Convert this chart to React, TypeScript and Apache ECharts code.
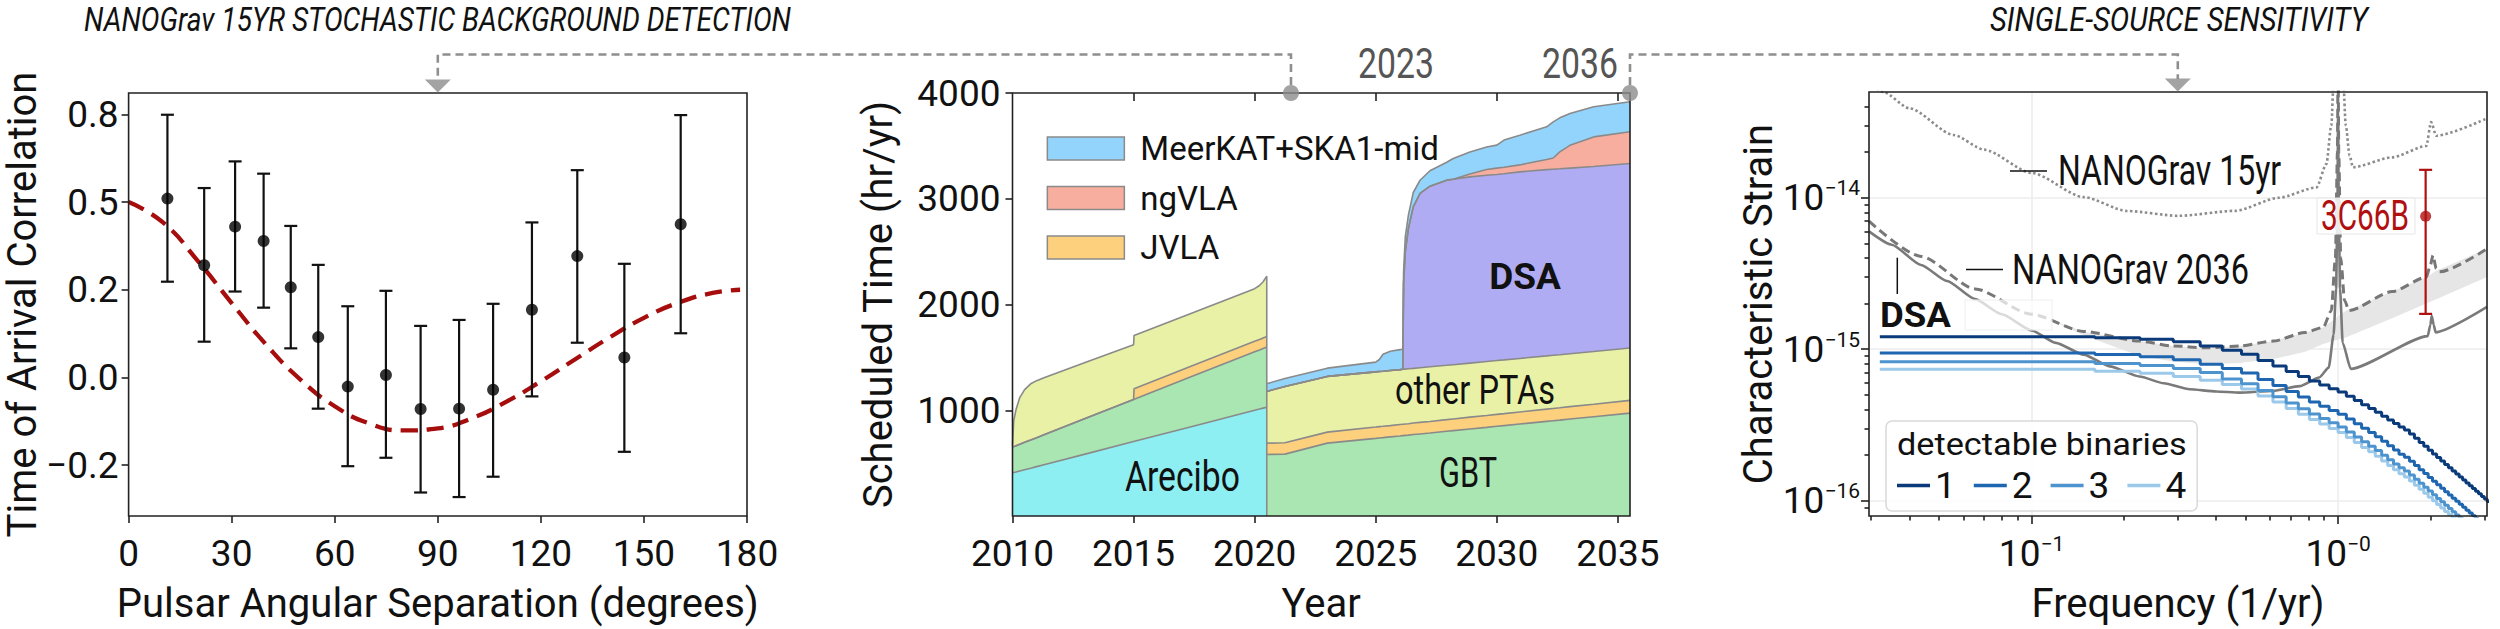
import React, { useEffect, useRef } from 'react';
import * as echarts from 'echarts';

// ---------------- fonts & inks ----------------
const COND = "Roboto, 'Noto Sans', 'Liberation Sans', sans-serif";
const SANS = "Roboto, 'Noto Sans', 'Liberation Sans', sans-serif";
const INK = '#111111';
const AXIS_INK = '#222222';
const EDGE = '#8a8a8a';

// ---------------- Panel 1 : NANOGrav 15yr correlations ----------------
const X1_MIN = 0;
const X1_MAX = 180;
const X1_STEP = 30;
const Y1_MIN = -0.395;
const Y1_MAX = 0.811;
const Y1_TICKS = [-0.25, 0, 0.25, 0.5, 0.75];
const Y1_TICK_LABELS = ['−0.2', '0.0', '0.2', '0.5', '0.8'];
const HD_ANGLES = [11.3, 22.0, 31.0, 39.3, 47.2, 55.2, 63.8, 74.9, 85.0, 96.2, 106.1, 117.4, 130.6, 144.3, 160.7];
const HD_CORR = [0.510, 0.320, 0.430, 0.389, 0.257, 0.115, -0.026, 0.007, -0.090, -0.089, -0.035, 0.193, 0.346, 0.057, 0.437];
const HD_LOW = [0.273, 0.102, 0.245, 0.199, 0.083, -0.089, -0.253, -0.229, -0.328, -0.341, -0.283, -0.054, 0.099, -0.212, 0.126];
const HD_HIGH = [0.749, 0.540, 0.616, 0.581, 0.432, 0.321, 0.203, 0.247, 0.147, 0.164, 0.210, 0.442, 0.591, 0.324, 0.748];
const HD_CURVE_ANGLES = [0, 10, 20, 30, 40, 50, 60, 70, 80, 90, 100, 110, 120, 130, 140, 150, 160, 170, 178];
const HD_CURVE_VALUES = [0.5, 0.442, 0.334, 0.212, 0.094, -0.006, -0.082, -0.131, -0.151, -0.145, -0.116, -0.069, -0.011, 0.052, 0.114, 0.170, 0.213, 0.241, 0.250];
const ARROW_ANGLE = [90];

// ---------------- Panel 2 : scheduled time ----------------
const YEAR_MIN = 2010;
const YEAR_MAX = 2035.5;
const YEAR_TICKS = [2010, 2015, 2020, 2025, 2030, 2035];
const YEAR_TOP_TICKS = [2015, 2020, 2025, 2030, 2035];
const HOURS_MIN = 0;
const HOURS_MAX = 4000;
const HOURS_TICKS = [1000, 2000, 3000, 4000];
const MILESTONE_YEARS = [2021.5, 2035.5];

// layer thicknesses (hr/yr), era up to 2020.5
const OLD_YEARS = [2010.0, 2010.05, 2010.15, 2010.3, 2010.5, 2010.75, 2011.0, 2011.3, 2013.0, 2015.0, 2015.02, 2017.5, 2020.0, 2020.2, 2020.35, 2020.5];
const ARECIBO = [408, 411, 417, 426, 438, 452, 467, 485, 585, 704, 705, 852, 1000, 1011, 1020, 1029];
const GBT_OLD = [243, 245, 248, 252, 259, 266, 274, 283, 336, 398, 399, 476, 553, 559, 564, 569];
const JVLA_OLD = [0, 0, 0, 0, 0, 0, 0, 0, 0, 0, 100, 100, 100, 100, 100, 100];
const PTA_OLD = [16, 244, 345, 442, 498, 532, 539, 540, 531, 518, 504, 499, 497, 510, 531, 569];

// layer thicknesses (hr/yr), era from 2020.5
const NEW_YEARS = [2020.5, 2021.25, 2023.0, 2025.0, 2025.15, 2025.3, 2025.6, 2026.0, 2026.12, 2026.15, 2026.22, 2026.35, 2026.55, 2026.83, 2027.24, 2027.93, 2028.2, 2028.89, 2029.58, 2030.0, 2030.3, 2030.95, 2032.06, 2032.33, 2032.6, 2033.02, 2034.0, 2035.5];
const GBT_NEW = [582, 585, 689, 734, 738, 741, 748, 757, 760, 760, 762, 765, 770, 776, 785, 801, 807, 823, 838, 848, 855, 870, 895, 901, 907, 917, 939, 973];
const JVLA_NEW = [107, 107, 104, 107, 107, 107, 107, 108, 108, 108, 108, 108, 109, 109, 109, 110, 111, 112, 112, 113, 113, 114, 116, 116, 116, 117, 118, 120];
const PTA_NEW = [489, 533, 527, 522, 521, 521, 521, 519, 519, 519, 519, 519, 517, 517, 517, 514, 513, 511, 511, 509, 508, 506, 503, 503, 502, 500, 498, 495];
const DSA_NEW = [0, 0, 0, 0, 0, 0, 0, 0, 0, 813, 1111, 1328, 1527, 1648, 1708, 1751, 1754, 1761, 1761, 1760, 1760, 1764, 1761, 1759, 1758, 1756, 1750, 1746];
const NGVLA_NEW = [0, 0, 0, 0, 0, 0, 0, 0, 0, 0, 0, 0, 0, 0, 0, 0, 0, 28, 55, 60, 62, 66, 97, 106, 160, 215, 280, 299];
const MEERKAT_NEW = [73, 75, 78, 92, 114, 161, 182, 189, 193, 110, 140, 128, 136, 125, 146, 169, 196, 208, 213, 217, 257, 281, 308, 342, 322, 302, 285, 284];

const C_ARECIBO = '#8eeff2';
const C_GBT = '#a9e6b1';
const C_JVLA = '#fdd07d';
const C_PTA = '#e9f1a6';
const C_DSA = '#b0acf4';
const C_NGVLA = '#f8ae9f';
const C_MEER = '#92d4fb';

// ---------------- Panel 3 : single-source sensitivity ----------------
const F_MIN = 0.0295;
const F_MAX = 3.06;
const H_MIN = 7.9e-17;
const H_MAX = 5.0e-14;
const F_MAJOR = [0.1, 1];
const H_MAJOR = [1e-16, 1e-15, 1e-14];
const F_MINOR = [0.03, 0.04, 0.05, 0.06, 0.07, 0.08, 0.09, 0.2, 0.3, 0.4, 0.5, 0.6, 0.7, 0.8, 0.9, 2, 3];
const H_MINOR = [9e-17, 2e-16, 3e-16, 4e-16, 5e-16, 6e-16, 7e-16, 8e-16, 9e-16, 2e-15, 3e-15, 4e-15, 5e-15, 6e-15, 7e-15, 8e-15, 9e-15, 2e-14, 3e-14, 4e-14];
const ARROW_FREQ = [0.3];

const NG15_FREQ = [0.0295, 0.0328, 0.04, 0.0557, 0.07, 0.1, 0.148, 0.205, 0.301, 0.462, 0.64, 0.85, 0.916, 0.95, 0.975, 1.03, 1.06, 1.09, 1.118, 1.5, 1.94, 2.01, 2.09, 3.06];
const NG15_STRAIN = [5.8e-14, 5.0e-14, 3.9e-14, 2.6e-14, 2.08e-14, 1.46e-14, 1.01e-14, 8.18e-15, 7.6e-15, 8.2e-15, 1.0e-14, 1.17e-14, 1.67e-14, 3.0e-14, 9e-14, 9e-14, 3.0e-14, 1.9e-14, 1.59e-14, 1.85e-14, 2.2e-14, 3.16e-14, 2.57e-14, 3.35e-14];

const NG36_FREQ = [0.0295, 0.0436, 0.0655, 0.1, 0.148, 0.225, 0.29, 0.372, 0.477, 0.614, 0.78, 0.893, 0.95, 0.98, 0.995, 1.0, 1.005, 1.02, 1.05, 1.085, 1.5, 1.94, 2.0, 2.04, 2.09, 2.14, 3.06];
const NG36_STRAIN = [7.0e-15, 4.1e-15, 2.5e-15, 1.7e-15, 1.31e-15, 1.13e-15, 1.05e-15, 1.02e-15, 1.05e-15, 1.13e-15, 1.29e-15, 1.39e-15, 1.79e-15, 4e-15, 2e-14, 8e-14, 2e-14, 4e-15, 2.1e-15, 1.8e-15, 2.4e-15, 2.99e-15, 3.6e-15, 4.17e-15, 3.4e-15, 3.24e-15, 4.6e-15];

const DSA_FREQ = [0.0295, 0.035, 0.0436, 0.053, 0.0655, 0.08, 0.1, 0.12, 0.148, 0.18, 0.225, 0.27, 0.328, 0.4, 0.477, 0.614, 0.75, 0.868, 0.932, 0.967, 0.985, 0.995, 1.0, 1.005, 1.015, 1.035, 1.1, 1.96, 2.0, 2.02, 2.05, 2.08, 3.06];
const DSA_STRAIN = [6.0e-15, 4.9e-15, 3.6e-15, 2.82e-15, 2.14e-15, 1.7e-15, 1.33e-15, 1.1e-15, 9.2e-16, 7.7e-16, 6.6e-16, 5.95e-16, 5.43e-16, 5.25e-16, 5.16e-16, 5.3e-16, 5.7e-16, 6.5e-16, 7.55e-16, 1.25e-15, 2.5e-15, 8e-15, 3.5e-14, 8e-15, 2.5e-15, 1.1e-15, 7.4e-16, 1.22e-15, 1.45e-15, 1.66e-15, 1.45e-15, 1.29e-15, 1.9e-15];

const BAND_FREQ = [0.12, 0.15, 0.225, 0.29, 0.372, 0.477, 0.614, 0.78, 0.893, 1.064, 1.118, 1.5, 1.94, 2.09, 3.06];
const BAND_LOW = [1.5e-15, 1.22e-15, 9.0e-16, 8.3e-16, 7.95e-16, 8.1e-16, 8.6e-16, 9.6e-16, 1.08e-15, 1.2e-15, 1.25e-15, 1.6e-15, 2.0e-15, 2.14e-15, 3.0e-15];
const BAND_HIGH = [1.52e-15, 1.3e-15, 1.13e-15, 1.05e-15, 1.02e-15, 1.05e-15, 1.13e-15, 1.29e-15, 1.39e-15, 1.81e-15, 1.86e-15, 2.4e-15, 2.99e-15, 3.3e-15, 4.6e-15];

// frequency-bin edges of the detectable-binary staircases, and log10 strain per bin
const BIN_EDGES = [0.032, 0.097, 0.161, 0.226, 0.290, 0.355, 0.419, 0.484, 0.548, 0.613, 0.677, 0.742, 0.806, 0.871, 0.935, 1.000, 1.064, 1.129, 1.193, 1.258, 1.322, 1.387, 1.451, 1.516, 1.580, 1.645, 1.709, 1.774, 1.838, 1.903, 1.967, 2.032, 2.096, 2.161, 2.225, 2.290, 2.354, 2.419, 2.483, 2.548, 2.612, 2.677, 2.741, 2.806, 2.870, 2.935, 2.999, 3.064, 3.128];
const LOG_H_1 = [-14.918, -14.918, -14.925, -14.935, -14.951, -14.979, -15.008, -15.034, -15.075, -15.111, -15.148, -15.181, -15.211, -15.237, -15.261, -15.283, -15.312, -15.340, -15.367, -15.392, -15.417, -15.443, -15.468, -15.491, -15.514, -15.535, -15.561, -15.589, -15.616, -15.642, -15.668, -15.692, -15.716, -15.739, -15.762, -15.783, -15.805, -15.825, -15.845, -15.865, -15.884, -15.903, -15.921, -15.939, -15.956, -15.973, -15.990, -16.006, -16.006];
const LOG_H_2 = [-15.025, -15.025, -15.035, -15.050, -15.070, -15.100, -15.128, -15.157, -15.201, -15.240, -15.280, -15.316, -15.349, -15.378, -15.405, -15.430, -15.462, -15.493, -15.523, -15.551, -15.579, -15.609, -15.638, -15.666, -15.694, -15.715, -15.741, -15.769, -15.796, -15.822, -15.848, -15.872, -15.896, -15.919, -15.942, -15.963, -15.985, -16.005, -16.025, -16.045, -16.064, -16.083, -16.101, -16.119, -16.136, -16.153, -16.170, -16.186, -16.186];
const LOG_H_3 = [-15.084, -15.084, -15.095, -15.108, -15.128, -15.155, -15.198, -15.229, -15.274, -15.315, -15.356, -15.394, -15.428, -15.459, -15.487, -15.514, -15.547, -15.580, -15.611, -15.641, -15.670, -15.701, -15.730, -15.758, -15.784, -15.805, -15.831, -15.859, -15.886, -15.912, -15.938, -15.962, -15.986, -16.009, -16.032, -16.053, -16.075, -16.095, -16.115, -16.135, -16.154, -16.173, -16.191, -16.209, -16.226, -16.243, -16.260, -16.276, -16.276];
const LOG_H_4 = [-15.133, -15.133, -15.146, -15.160, -15.180, -15.205, -15.233, -15.264, -15.310, -15.350, -15.392, -15.430, -15.464, -15.495, -15.524, -15.551, -15.584, -15.617, -15.649, -15.678, -15.708, -15.739, -15.768, -15.796, -15.824, -15.845, -15.871, -15.899, -15.926, -15.952, -15.978, -16.002, -16.026, -16.049, -16.072, -16.093, -16.115, -16.135, -16.155, -16.175, -16.194, -16.213, -16.231, -16.249, -16.266, -16.283, -16.300, -16.316, -16.316];
const BINARY_NAMES = ['1', '2', '3', '4'];
const BINARY_COLORS = ['#0a3a7a', '#1f66b0', '#4d94cf', '#9cc9ea'];

const SRC_F = [1.93];
const SRC_H = [7.55e-15];
const SRC_LO = [1.71e-15];
const SRC_HI = [1.53e-14];

// ---------------- helpers ----------------
const zip = (xs: number[], ys: number[]) => xs.map((x, i) => [x, ys[i]]);
const cumulate = (layers: number[][]) => {
  const out: number[][] = [];
  layers.forEach((layer, li) => {
    out.push(layer.map((v, i) => v + (li > 0 ? out[li - 1][i] : 0)));
  });
  return out;
};

function fitScale(text: string, font: string, width: number): number {
  const ctx = document.createElement('canvas').getContext('2d');
  if (!ctx) return 1;
  ctx.font = font;
  const w = ctx.measureText(text).width;
  return w > 0 ? width / w : 1;
}

function fittedText(text: string, left: number, cy: number, width: number, size: number, color = INK, style = 'normal', weight = 'normal') {
  const s = fitScale(text, `${style} ${weight} ${size}px Roboto`, width);
  return {
    type: 'text', x: left, y: cy, scaleX: s, z: 100, silent: true,
    style: { text, fontFamily: SANS, fontSize: size, fontStyle: style, fontWeight: weight, fill: color, align: 'left', verticalAlign: 'middle' },
  };
}

function errorBar(color: string, halfCap: number, lw: number) {
  return (params: any, api: any) => {
    const x = api.value(0);
    const lo = api.coord([x, api.value(2)]);
    const hi = api.coord([x, api.value(3)]);
    const style = { stroke: color, lineWidth: lw };
    return {
      type: 'group',
      children: [
        { type: 'line', shape: { x1: lo[0], y1: lo[1], x2: hi[0], y2: hi[1] }, style },
        { type: 'line', shape: { x1: lo[0] - halfCap, y1: lo[1], x2: lo[0] + halfCap, y2: lo[1] }, style },
        { type: 'line', shape: { x1: hi[0] - halfCap, y1: hi[1], x2: hi[0] + halfCap, y2: hi[1] }, style },
      ],
    };
  };
}

const TICK_FONT = 37;
const tickStyle = { color: AXIS_INK, width: 1.6 };
const tickLabel = { fontFamily: COND, fontSize: TICK_FONT, color: INK };
const nameStyle = { fontFamily: SANS, fontSize: 40, color: INK };
const powRich = {
  b: { fontFamily: COND, fontSize: TICK_FONT, color: INK, lineHeight: 40 },
  s: { fontFamily: COND, fontSize: 21, color: INK, lineHeight: 24, verticalAlign: 'top' },
};
const powLabel = (v: number) => {
  const e = Math.round(Math.log10(v));
  return `{b|10}{s|−${Math.abs(e)}}`;
};
const plain = (v: number) => String(Math.round(v));
const gridBox = { show: true, z: 10, borderColor: AXIS_INK, borderWidth: 1.6, backgroundColor: 'transparent', containLabel: false, outerBoundsMode: 'none' };
const noLine = { show: false, onZero: false };

function areaSeries(name: string, years: number[], tops: number[], color: string) {
  return {
    name, type: 'line', xAxisIndex: 1, yAxisIndex: 1, data: zip(years, tops),
    symbol: 'none', showSymbol: false, color,
    lineStyle: { color: EDGE, width: 1.6 },
    areaStyle: { color, opacity: 1, origin: 'start' },
    z: 2,
  };
}

function buildOption() {
  const [topArecibo, topGbtOld, topJvlaOld, topPtaOld] = cumulate([ARECIBO, GBT_OLD, JVLA_OLD, PTA_OLD]);
  const [topGbt, topJvla, topPta, topDsa, topNgvla, topMeer] = cumulate([GBT_NEW, JVLA_NEW, PTA_NEW, DSA_NEW, NGVLA_NEW, MEERKAT_NEW]);
  const lastOld = OLD_YEARS.length - 1;

  const binaryLogs = [LOG_H_1, LOG_H_2, LOG_H_3, LOG_H_4];
  const binarySeries = [3, 2, 1, 0].map((i) => ({
    name: BINARY_NAMES[i], type: 'line', xAxisIndex: 3, yAxisIndex: 2, step: 'end',
    data: BIN_EDGES.map((f, k) => [f, Math.pow(10, binaryLogs[i][k])]),
    symbol: 'none', color: BINARY_COLORS[i],
    lineStyle: { color: BINARY_COLORS[i], width: 3 }, z: 4,
  }));

  return {
    animation: false,
    backgroundColor: '#ffffff',
    textStyle: { fontFamily: SANS },
    grid: [
      { ...gridBox, left: 128.6, top: 93, width: 618.4, height: 423 },
      { ...gridBox, left: 1012.5, top: 93, width: 617.5, height: 423 },
      { ...gridBox, left: 1869, top: 92, width: 618, height: 424 },
    ],
    xAxis: [
      {
        gridIndex: 0, type: 'value', min: X1_MIN, max: X1_MAX, interval: X1_STEP,
        axisLine: noLine, splitLine: { show: false },
        axisTick: { show: true, length: 7, lineStyle: tickStyle },
        axisLabel: { ...tickLabel, margin: 19, formatter: plain },
        name: 'Pulsar Angular Separation (degrees)', nameLocation: 'middle', nameGap: 67, nameTextStyle: nameStyle,
      },
      {
        gridIndex: 1, type: 'value', position: 'bottom', min: YEAR_MIN, max: YEAR_MAX,
        axisLine: noLine, splitLine: { show: false },
        axisTick: { show: true, length: 7, lineStyle: tickStyle, customValues: YEAR_TICKS },
        axisLabel: { ...tickLabel, margin: 19, customValues: YEAR_TICKS, formatter: plain },
        name: 'Year', nameLocation: 'middle', nameGap: 67, nameTextStyle: nameStyle,
      },
      {
        gridIndex: 1, type: 'value', position: 'top', min: YEAR_MIN, max: YEAR_MAX,
        axisLine: noLine, splitLine: { show: false },
        axisTick: { show: true, inside: true, length: 8, lineStyle: tickStyle, customValues: YEAR_TOP_TICKS },
        axisLabel: { show: false },
      },
      {
        gridIndex: 2, type: 'log', logBase: 10, position: 'bottom', min: F_MIN, max: F_MAX,
        axisLine: noLine,
        splitLine: { show: true, lineStyle: { color: '#ececec', width: 1.5 } },
        axisTick: { show: true, length: 8, lineStyle: tickStyle, customValues: F_MAJOR },
        axisLabel: { margin: 17, customValues: F_MAJOR, formatter: powLabel, rich: powRich },
        name: 'Frequency (1/yr)', nameLocation: 'middle', nameGap: 67, nameTextStyle: nameStyle,
      },
      {
        gridIndex: 2, type: 'log', logBase: 10, position: 'bottom', min: F_MIN, max: F_MAX,
        axisLine: noLine, splitLine: { show: false },
        axisTick: { show: true, length: 4.5, lineStyle: tickStyle, customValues: F_MINOR },
        axisLabel: { show: false },
      },
    ],
    yAxis: [
      {
        gridIndex: 0, type: 'value', min: Y1_MIN, max: Y1_MAX,
        axisLine: noLine, splitLine: { show: false },
        axisTick: { show: true, length: 7, lineStyle: tickStyle, customValues: Y1_TICKS },
        axisLabel: {
          ...tickLabel, margin: 10, customValues: Y1_TICKS,
          formatter: (v: number) => {
            const i = Y1_TICKS.findIndex((t) => Math.abs(t - v) < 1e-9);
            return i >= 0 ? Y1_TICK_LABELS[i] : '';
          },
        },
        name: 'Time of Arrival Correlation', nameLocation: 'middle', nameGap: 83, nameTextStyle: nameStyle,
      },
      {
        gridIndex: 1, type: 'value', min: HOURS_MIN, max: HOURS_MAX,
        axisLine: noLine, splitLine: { show: false },
        axisTick: { show: true, length: 7, lineStyle: tickStyle, customValues: HOURS_TICKS },
        axisLabel: { ...tickLabel, margin: 12, customValues: HOURS_TICKS, formatter: plain },
        name: 'Scheduled Time (hr/yr)', nameLocation: 'middle', nameGap: 114, nameTextStyle: nameStyle,
      },
      {
        gridIndex: 2, type: 'log', logBase: 10, position: 'left', min: H_MIN, max: H_MAX,
        axisLine: noLine,
        splitLine: { show: true, lineStyle: { color: '#ececec', width: 1.5 } },
        axisTick: { show: true, length: 8, lineStyle: tickStyle, customValues: H_MAJOR },
        axisLabel: { margin: 9, customValues: H_MAJOR, formatter: powLabel, rich: powRich },
        name: 'Characteristic Strain', nameLocation: 'middle', nameGap: 91, nameTextStyle: nameStyle,
      },
      {
        gridIndex: 2, type: 'log', logBase: 10, position: 'left', min: H_MIN, max: H_MAX,
        axisLine: noLine, splitLine: { show: false },
        axisTick: { show: true, length: 4.5, lineStyle: tickStyle, customValues: H_MINOR },
        axisLabel: { show: false },
      },
    ],
    legend: [
      {
        selectedMode: false, orient: 'vertical', left: 1046.6, top: 132, padding: 0,
        itemWidth: 77, itemHeight: 23, itemGap: 16.5, icon: 'rect',
        formatter: (name: string) => `{t|${name}}`,
        textStyle: { rich: { t: { fontFamily: COND, fontSize: 33, color: INK, lineHeight: 23, padding: [0, 0, 0, 11] } } },
        data: [
          { name: 'MeerKAT+SKA1-mid', itemStyle: { color: C_MEER, borderColor: EDGE, borderWidth: 1.5 } },
          { name: 'ngVLA', itemStyle: { color: C_NGVLA, borderColor: EDGE, borderWidth: 1.5 } },
          { name: 'JVLA', itemStyle: { color: C_JVLA, borderColor: EDGE, borderWidth: 1.5 } },
        ],
      },
      {
        selectedMode: false, orient: 'horizontal', left: 1886, top: 421,
        padding: [46, 11, 7, 11], itemWidth: 33, itemHeight: 3.5, itemGap: 18, icon: 'rect',
        backgroundColor: 'rgba(255,255,255,0.85)', borderColor: '#d9d9d9', borderWidth: 1.5, borderRadius: 6,
        textStyle: { fontFamily: COND, fontSize: TICK_FONT, color: INK, lineHeight: 30 },
        data: BINARY_NAMES.map((n, i) => ({ name: n, itemStyle: { color: BINARY_COLORS[i] } })),
      },
    ],
    series: [
      // ----- panel 1
      {
        name: 'Hellings-Downs', type: 'line', xAxisIndex: 0, yAxisIndex: 0,
        data: zip(HD_CURVE_ANGLES, HD_CURVE_VALUES), smooth: true, symbol: 'none',
        lineStyle: { color: '#a60e0e', width: 4.3, type: [17, 9] }, z: 2,
      },
      {
        name: 'correlation error', type: 'custom', xAxisIndex: 0, yAxisIndex: 0,
        renderItem: errorBar('#111111', 6.5, 2.2), encode: { x: 0, y: [1, 2, 3] },
        data: HD_ANGLES.map((a, i) => [a, HD_CORR[i], HD_LOW[i], HD_HIGH[i]]), z: 3,
      },
      {
        name: 'correlation', type: 'scatter', xAxisIndex: 0, yAxisIndex: 0,
        data: zip(HD_ANGLES, HD_CORR), symbolSize: 12, itemStyle: { color: '#000000' }, z: 4,
      },
      {
        name: 'arrow-left', type: 'scatter', xAxisIndex: 0, yAxisIndex: 0, clip: false,
        data: ARROW_ANGLE.map((a) => [a, Y1_MAX]), symbol: 'triangle', symbolRotate: 180,
        symbolSize: [26, 13], symbolOffset: [0, -7], itemStyle: { color: '#8c8c8c' }, z: 20,
      },
      // ----- panel 2 : layers painted back to front (cumulative tops)
      areaSeries('other PTAs', OLD_YEARS, topPtaOld, C_PTA),
      areaSeries('JVLA', OLD_YEARS, topJvlaOld, C_JVLA),
      areaSeries('GBT', OLD_YEARS, topGbtOld, C_GBT),
      areaSeries('Arecibo', OLD_YEARS, topArecibo, C_ARECIBO),
      areaSeries('MeerKAT+SKA1-mid', NEW_YEARS, topMeer, C_MEER),
      areaSeries('ngVLA', NEW_YEARS, topNgvla, C_NGVLA),
      areaSeries('DSA', NEW_YEARS, topDsa, C_DSA),
      areaSeries('other PTAs', NEW_YEARS, topPta, C_PTA),
      areaSeries('JVLA', NEW_YEARS, topJvla, C_JVLA),
      areaSeries('GBT', NEW_YEARS, topGbt, C_GBT),
      {
        name: 'era boundary', type: 'line', xAxisIndex: 1, yAxisIndex: 1,
        data: [[OLD_YEARS[lastOld], 0], [OLD_YEARS[lastOld], topPtaOld[lastOld]]],
        symbol: 'none', lineStyle: { color: EDGE, width: 1.6 }, z: 3,
      },
      {
        name: 'milestones', type: 'scatter', xAxisIndex: 1, yAxisIndex: 1, clip: false,
        data: MILESTONE_YEARS.map((y) => [y, HOURS_MAX]), symbolSize: 16,
        itemStyle: { color: '#8c8c8c' }, z: 20,
      },
      // ----- panel 3
      {
        name: 'band', type: 'custom', xAxisIndex: 3, yAxisIndex: 2, z: 1,
        data: BAND_FREQ.map((f, i) => [f, BAND_LOW[i], BAND_HIGH[i]]),
        encode: { x: 0, y: [1, 2] },
        renderItem: (params: any, api: any) => {
          if (params.dataIndex !== 0) return null;
          const upper = BAND_FREQ.map((f, i) => api.coord([f, BAND_HIGH[i]]));
          const lower = BAND_FREQ.map((f, i) => api.coord([f, BAND_LOW[i]])).reverse();
          return { type: 'polygon', shape: { points: upper.concat(lower) }, style: { fill: '#e6e6e6' } };
        },
      },
      {
        name: 'NANOGrav 15yr', type: 'line', xAxisIndex: 3, yAxisIndex: 2,
        data: zip(NG15_FREQ, NG15_STRAIN), symbol: 'none', smooth: 0.25, smoothMonotone: 'x',
        lineStyle: { color: '#8c8c8c', width: 2.6, type: [2.5, 2.5] }, z: 2,
      },
      {
        name: 'NANOGrav 2036', type: 'line', xAxisIndex: 3, yAxisIndex: 2,
        data: zip(NG36_FREQ, NG36_STRAIN), symbol: 'none', smooth: 0.25, smoothMonotone: 'x',
        lineStyle: { color: '#777777', width: 3, type: [9, 5] }, z: 3,
      },
      {
        name: 'DSA sensitivity', type: 'line', xAxisIndex: 3, yAxisIndex: 2,
        data: zip(DSA_FREQ, DSA_STRAIN), symbol: 'none', smooth: 0.2, smoothMonotone: 'x',
        lineStyle: { color: '#7a7a7a', width: 2.6 }, z: 3,
      },
      ...binarySeries,
      {
        name: '3C66B error', type: 'custom', xAxisIndex: 3, yAxisIndex: 2,
        renderItem: errorBar('#b01010', 6.5, 2.2), encode: { x: 0, y: [1, 2, 3] },
        data: SRC_F.map((f, i) => [f, SRC_H[i], SRC_LO[i], SRC_HI[i]]), z: 6,
      },
      {
        name: '3C66B', type: 'scatter', xAxisIndex: 3, yAxisIndex: 2,
        data: zip(SRC_F, SRC_H), symbolSize: 11, itemStyle: { color: '#b01010' }, z: 7,
      },
      {
        name: 'arrow-right', type: 'scatter', xAxisIndex: 3, yAxisIndex: 2, clip: false,
        data: ARROW_FREQ.map((f) => [f, H_MAX]), symbol: 'triangle', symbolRotate: 180,
        symbolSize: [26, 13], symbolOffset: [0, -7], itemStyle: { color: '#8c8c8c' }, z: 20,
      },
    ],
  };
}

export default function App() {
  const ref = useRef<HTMLDivElement>(null);
  useEffect(() => {
    if (!ref.current) return;
    const chart = echarts.init(ref.current, null, { renderer: 'svg' });
    chart.setOption(buildOption() as any);

    const pA = chart.convertToPixel({ xAxisIndex: 0, yAxisIndex: 0 } as any, [ARROW_ANGLE[0], Y1_MAX]) as number[];
    const pB = chart.convertToPixel({ xAxisIndex: 1, yAxisIndex: 1 } as any, [MILESTONE_YEARS[0], HOURS_MAX]) as number[];
    const pC = chart.convertToPixel({ xAxisIndex: 1, yAxisIndex: 1 } as any, [MILESTONE_YEARS[1], HOURS_MAX]) as number[];
    const pD = chart.convertToPixel({ xAxisIndex: 3, yAxisIndex: 2 } as any, [ARROW_FREQ[0], H_MAX]) as number[];
    const railY = 54.5;
    const dash = { stroke: '#8f8f8f', lineWidth: 2.6, lineDash: [8, 5], fill: null };

    const graphics: any[] = [
      { type: 'polyline', z: 90, silent: true, shape: { points: [[pB[0], pB[1] - 8], [pB[0], railY], [pA[0], railY], [pA[0], pA[1] - 13]] }, style: dash },
      { type: 'polyline', z: 90, silent: true, shape: { points: [[pC[0], pC[1] - 8], [pC[0], railY], [pD[0], railY], [pD[0], pD[1] - 13]] }, style: dash },
      fittedText('NANOGrav 15YR STOCHASTIC BACKGROUND DETECTION', 84, 19.5, 707, 34, INK, 'italic'),
      fittedText('SINGLE-SOURCE SENSITIVITY', 1990, 19.5, 378, 34, INK, 'italic'),
      fittedText('2023', 1358, 64, 76, 42, '#555555'),
      fittedText('2036', 1542, 64, 76, 42, '#555555'),
      fittedText('Arecibo', 1125, 476, 115, 43),
      fittedText('GBT', 1439, 472, 58, 43),
      fittedText('other PTAs', 1395, 390, 160, 41),
      {
        type: 'text', x: 1525, y: 276, z: 100, silent: true,
        style: { text: 'DSA', fontFamily: SANS, fontSize: 37, fontWeight: 'bold', fill: INK, align: 'center', verticalAlign: 'middle' },
      },
      { type: 'rect', z: 60, silent: true, shape: { x: 1965, y: 300, width: 87, height: 30 }, style: { fill: 'rgba(255,255,255,0.72)', stroke: '#eeeeee', lineWidth: 1 } },
      fittedText('DSA', 1880, 315, 71, 35, INK, 'normal', 'bold'),
      { type: 'line', z: 100, silent: true, shape: { x1: 1897.3, y1: 257.7, x2: 1897.3, y2: 294 }, style: { stroke: INK, lineWidth: 1.5 } },
      { type: 'line', z: 100, silent: true, shape: { x1: 2010, y1: 171, x2: 2047, y2: 171 }, style: { stroke: INK, lineWidth: 1.5 } },
      fittedText('NANOGrav 15yr', 2058, 170, 223, 42),
      { type: 'line', z: 100, silent: true, shape: { x1: 1966, y1: 269.5, x2: 2003, y2: 269.5 }, style: { stroke: INK, lineWidth: 1.5 } },
      fittedText('NANOGrav 2036', 2012, 269, 237, 42),
      { type: 'rect', z: 60, silent: true, shape: { x: 2317, y: 198, width: 98, height: 36 }, style: { fill: 'rgba(255,255,255,0.85)', stroke: '#e6e6e6', lineWidth: 1 } },
      fittedText('3C66B', 2321, 216, 88, 42, '#b01010'),
      fittedText('detectable binaries', 1897, 444, 290, 32),
    ];
    chart.setOption({ graphic: graphics });
    return () => chart.dispose();
  }, []);
  return <div ref={ref} style={{ position: 'fixed', left: 0, top: 0, width: 2500, height: 629, background: '#ffffff' }} />;
}
